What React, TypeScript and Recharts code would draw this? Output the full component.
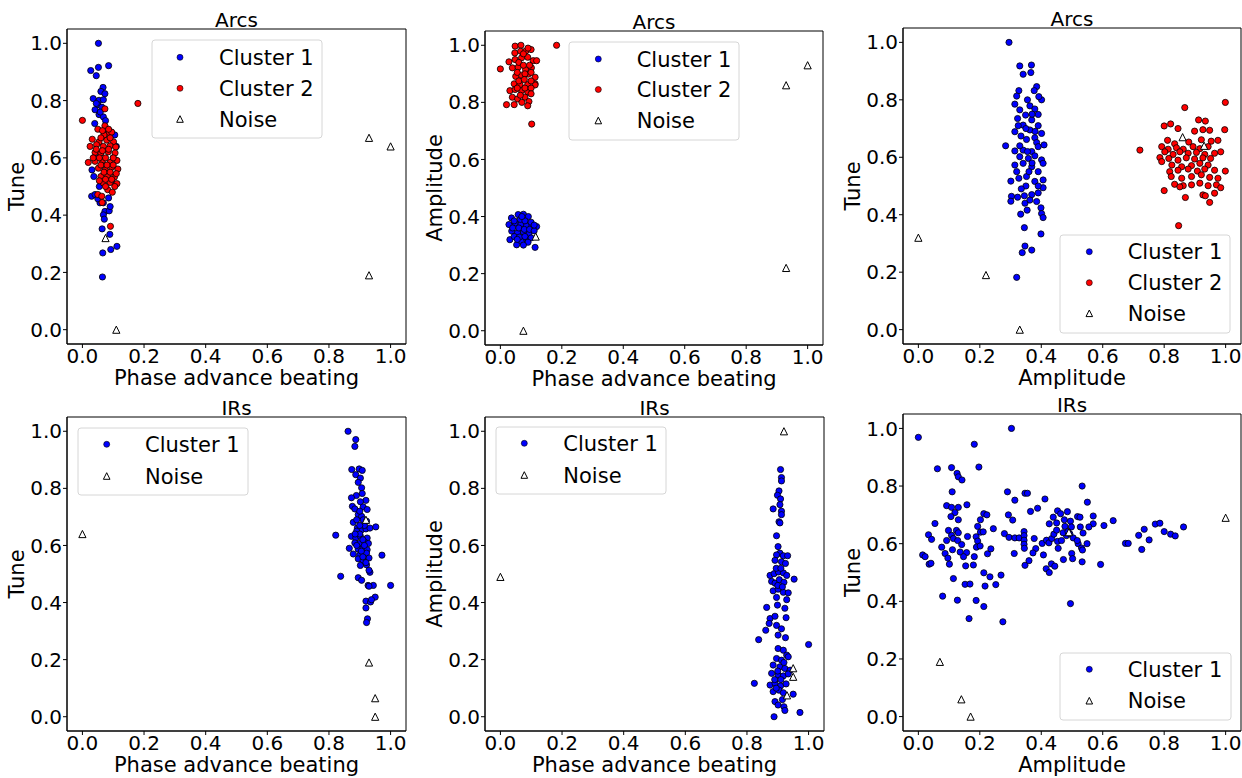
import { ScatterChart, Scatter, XAxis, YAxis, ReferenceArea } from "recharts";

type Pt = [number, number];

// ---- Arcs: phase advance beating vs tune
const arcsPhaseTune1: Pt[] = [
  [0.052, 1.0], [0.027, 0.905], [0.052, 0.916], [0.045, 0.887], [0.085, 0.922],
  [0.067, 0.846], [0.06, 0.832], [0.073, 0.824], [0.035, 0.807], [0.054, 0.801], [0.068, 0.803],
  [0.05, 0.786], [0.041, 0.768], [0.063, 0.777], [0.054, 0.751], [0.068, 0.743],
  [0.045, 0.79], [0.058, 0.76], [0.075, 0.73], [0.04, 0.72], [0.08, 0.7], [0.09, 0.69],
  [0.031, 0.558], [0.037, 0.535], [0.11, 0.64], [0.1, 0.6], [0.045, 0.6],
  [0.03, 0.466], [0.041, 0.472], [0.057, 0.443], [0.05, 0.457], [0.068, 0.443], [0.073, 0.413],
  [0.087, 0.415], [0.068, 0.401], [0.071, 0.386], [0.064, 0.352], [0.089, 0.333], [0.092, 0.28],
  [0.112, 0.291], [0.066, 0.268], [0.065, 0.184],
  [0.105, 0.68], [0.095, 0.52], [0.085, 0.46], [0.055, 0.5], [0.09, 0.43],
];
const arcsPhaseTune2: Pt[] = [
  [0.18, 0.79], [0.0, 0.731], [0.073, 0.771], [0.05, 0.7], [0.073, 0.712], [0.087, 0.688], [0.095, 0.69],
  [0.032, 0.665], [0.054, 0.656], [0.079, 0.662], [0.101, 0.656], [0.025, 0.64], [0.046, 0.646],
  [0.068, 0.64], [0.09, 0.642], [0.108, 0.638], [0.041, 0.619], [0.06, 0.617], [0.084, 0.621],
  [0.106, 0.617], [0.019, 0.584], [0.041, 0.588], [0.065, 0.591], [0.09, 0.584], [0.112, 0.591],
  [0.052, 0.564], [0.074, 0.558], [0.095, 0.567], [0.115, 0.561], [0.06, 0.535], [0.082, 0.537],
  [0.104, 0.533], [0.068, 0.512], [0.09, 0.514], [0.112, 0.51], [0.082, 0.489], [0.097, 0.48],
  [0.05, 0.472], [0.063, 0.466], [0.064, 0.444], [0.091, 0.361],
  [0.035, 0.6], [0.055, 0.6], [0.075, 0.6], [0.1, 0.6], [0.045, 0.63], [0.065, 0.625], [0.085, 0.63],
  [0.06, 0.575], [0.08, 0.575], [0.1, 0.575], [0.07, 0.55], [0.09, 0.55], [0.11, 0.545],
  [0.055, 0.52], [0.075, 0.525], [0.095, 0.525], [0.07, 0.68], [0.06, 0.67], [0.09, 0.67],
  [0.075, 0.5], [0.105, 0.5], [0.085, 0.7], [0.065, 0.695],
];
const arcsPhaseTuneNoise: Pt[] = [[0.075, 0.32], [0.11, 0.0], [0.93, 0.67], [1.0, 0.64], [0.93, 0.19]];

// ---- Arcs: phase advance beating vs amplitude
const arcsPhaseAmp1: Pt[] = [
  [0.036, 0.395], [0.058, 0.407], [0.075, 0.408], [0.091, 0.4], [0.028, 0.372], [0.048, 0.377],
  [0.067, 0.373], [0.085, 0.368], [0.102, 0.365], [0.118, 0.365], [0.037, 0.349], [0.056, 0.343],
  [0.075, 0.346], [0.093, 0.339], [0.031, 0.319], [0.053, 0.301], [0.069, 0.313], [0.085, 0.322],
  [0.113, 0.292],
  [0.045, 0.385], [0.065, 0.39], [0.08, 0.385], [0.1, 0.38], [0.04, 0.36], [0.06, 0.36], [0.078, 0.355],
  [0.095, 0.355], [0.11, 0.35], [0.045, 0.33], [0.062, 0.328], [0.08, 0.33], [0.1, 0.325], [0.07, 0.4],
  [0.055, 0.32], [0.09, 0.31], [0.075, 0.3], [0.11, 0.37],
];
const arcsPhaseAmp2: Pt[] = [
  [0.183, 1.0], [0.0, 0.917], [0.102, 0.724], [0.048, 0.997], [0.067, 1.0], [0.047, 0.973],
  [0.066, 0.979], [0.083, 0.98], [0.1, 0.985], [0.028, 0.942], [0.048, 0.95], [0.069, 0.956],
  [0.089, 0.958], [0.107, 0.946], [0.118, 0.946], [0.039, 0.921], [0.058, 0.923], [0.082, 0.915],
  [0.101, 0.921], [0.05, 0.891], [0.069, 0.895], [0.091, 0.899], [0.113, 0.888], [0.045, 0.865],
  [0.064, 0.862], [0.089, 0.862], [0.113, 0.865], [0.031, 0.841], [0.048, 0.845], [0.069, 0.841],
  [0.089, 0.837], [0.113, 0.861], [0.039, 0.818], [0.056, 0.812], [0.08, 0.818], [0.093, 0.803],
  [0.02, 0.792], [0.045, 0.792], [0.089, 0.788],
  [0.06, 0.94], [0.075, 0.93], [0.095, 0.93], [0.055, 0.905], [0.08, 0.9], [0.1, 0.905], [0.06, 0.875],
  [0.078, 0.88], [0.1, 0.875], [0.055, 0.85], [0.08, 0.85], [0.1, 0.85], [0.065, 0.825], [0.1, 0.83],
  [0.07, 0.8], [0.075, 0.97], [0.09, 0.99],
];
const arcsPhaseAmpNoise: Pt[] = [[0.075, 0.0], [0.115, 0.33], [0.93, 0.86], [1.0, 0.93], [0.93, 0.22]];

// ---- Arcs: amplitude vs tune
const arcsAmpTune1: Pt[] = [
  [0.295, 1.0], [0.33, 0.918], [0.368, 0.921], [0.341, 0.889], [0.366, 0.895], [0.385, 0.846],
  [0.377, 0.832], [0.327, 0.832], [0.32, 0.813], [0.401, 0.8], [0.392, 0.811], [0.314, 0.785],
  [0.363, 0.779], [0.33, 0.765], [0.379, 0.768], [0.39, 0.749], [0.349, 0.747], [0.323, 0.735],
  [0.369, 0.73], [0.341, 0.712], [0.39, 0.71], [0.314, 0.689], [0.363, 0.695], [0.401, 0.683],
  [0.334, 0.674], [0.352, 0.662], [0.379, 0.668], [0.385, 0.651], [0.284, 0.64], [0.314, 0.622],
  [0.341, 0.625], [0.369, 0.62], [0.39, 0.637], [0.409, 0.643], [0.33, 0.602], [0.358, 0.596],
  [0.379, 0.605], [0.401, 0.591], [0.314, 0.573], [0.341, 0.579], [0.369, 0.567], [0.406, 0.579],
  [0.301, 0.517], [0.327, 0.527], [0.352, 0.533], [0.379, 0.516], [0.406, 0.521], [0.406, 0.494],
  [0.303, 0.464], [0.323, 0.461], [0.345, 0.466], [0.369, 0.47], [0.39, 0.476], [0.301, 0.447],
  [0.347, 0.44], [0.385, 0.446], [0.363, 0.451], [0.354, 0.416], [0.399, 0.424], [0.401, 0.404],
  [0.333, 0.402], [0.406, 0.39], [0.345, 0.355], [0.399, 0.333], [0.347, 0.291], [0.369, 0.277],
  [0.338, 0.268], [0.32, 0.182],
  [0.35, 0.7], [0.33, 0.64], [0.36, 0.55], [0.39, 0.55], [0.32, 0.55], [0.35, 0.5], [0.39, 0.5],
  [0.37, 0.58], [0.355, 0.62], [0.325, 0.71], [0.37, 0.75], [0.355, 0.8], [0.335, 0.49], [0.38, 0.69],
];
const arcsAmpTune2: Pt[] = [
  [0.999, 0.791], [0.867, 0.773], [0.721, 0.625], [0.847, 0.362], [0.8, 0.709], [0.821, 0.716],
  [0.912, 0.73], [0.934, 0.726], [0.845, 0.7], [0.899, 0.691], [0.926, 0.696], [0.948, 0.694],
  [0.997, 0.696], [0.811, 0.659], [0.834, 0.647], [0.88, 0.653], [0.921, 0.661], [0.953, 0.656],
  [0.975, 0.659], [0.792, 0.637], [0.813, 0.628], [0.84, 0.633], [0.862, 0.628], [0.894, 0.637],
  [0.916, 0.63], [0.943, 0.637], [0.802, 0.619], [0.829, 0.61], [0.851, 0.619], [0.878, 0.614],
  [0.905, 0.617], [0.932, 0.61], [0.964, 0.614], [0.786, 0.599], [0.815, 0.596], [0.845, 0.59],
  [0.872, 0.598], [0.899, 0.594], [0.926, 0.598], [0.951, 0.596], [0.984, 0.619], [0.792, 0.585],
  [0.825, 0.573], [0.857, 0.567], [0.889, 0.571], [0.916, 0.579], [0.943, 0.573], [0.818, 0.55],
  [0.845, 0.555], [0.878, 0.559], [0.908, 0.552], [0.932, 0.559], [0.964, 0.555], [0.999, 0.552],
  [0.823, 0.533], [0.857, 0.527], [0.889, 0.533], [0.921, 0.539], [0.948, 0.53], [0.975, 0.527],
  [0.834, 0.506], [0.862, 0.501], [0.889, 0.504], [0.916, 0.51], [0.943, 0.501], [0.97, 0.504],
  [0.984, 0.494], [0.8, 0.484], [0.851, 0.497], [0.869, 0.46], [0.926, 0.469], [0.964, 0.475],
  [0.948, 0.443], [0.934, 0.466],
];
const arcsAmpTuneNoise: Pt[] = [[0.0, 0.32], [0.22, 0.19], [0.33, 0.0], [0.86, 0.67], [0.93, 0.64]];

// ---- IRs: phase advance beating vs tune
const irsPhaseTune1: Pt[] = [
  [0.862, 1.0], [0.887, 0.971], [0.884, 0.947], [0.874, 0.866], [0.898, 0.868], [0.908, 0.863],
  [0.887, 0.848], [0.902, 0.836], [0.895, 0.821], [0.906, 0.802], [0.908, 0.782], [0.889, 0.775],
  [0.873, 0.767], [0.92, 0.758], [0.902, 0.753], [0.876, 0.737], [0.884, 0.728], [0.911, 0.735],
  [0.924, 0.726], [0.895, 0.708], [0.906, 0.702], [0.879, 0.681], [0.911, 0.69], [0.922, 0.685],
  [0.892, 0.661], [0.906, 0.655], [0.92, 0.658], [0.933, 0.661], [0.952, 0.665], [0.822, 0.636],
  [0.873, 0.632], [0.887, 0.626], [0.902, 0.632], [0.924, 0.626], [0.884, 0.609], [0.9, 0.607],
  [0.917, 0.611], [0.928, 0.607], [0.866, 0.59], [0.895, 0.587], [0.911, 0.593], [0.924, 0.585],
  [0.879, 0.57], [0.9, 0.566], [0.922, 0.573], [0.972, 0.566], [0.895, 0.553], [0.911, 0.548],
  [0.93, 0.556], [0.902, 0.53], [0.922, 0.532], [0.933, 0.506], [0.93, 0.513], [0.838, 0.492],
  [0.895, 0.487], [0.906, 0.478], [0.927, 0.46], [0.944, 0.46], [1.0, 0.46], [0.93, 0.457],
  [0.95, 0.419], [0.92, 0.405], [0.935, 0.402], [0.938, 0.41], [0.92, 0.381], [0.925, 0.343],
  [0.922, 0.33],
  [0.89, 0.65], [0.9, 0.64], [0.91, 0.62], [0.915, 0.6], [0.89, 0.6], [0.905, 0.58], [0.885, 0.64],
  [0.915, 0.67], [0.9, 0.67], [0.91, 0.56], [0.92, 0.54], [0.89, 0.69], [0.9, 0.72],
];
const irsPhaseTuneNoise: Pt[] = [[0.0, 0.64], [0.93, 0.19], [0.95, 0.065], [0.95, 0.0], [0.92, 0.69]];

// ---- IRs: phase advance beating vs amplitude
const irsPhaseAmp1: Pt[] = [
  [0.909, 0.866], [0.912, 0.838], [0.912, 0.826], [0.904, 0.791], [0.899, 0.776], [0.909, 0.763],
  [0.885, 0.728], [0.907, 0.743], [0.912, 0.72], [0.912, 0.708], [0.904, 0.683], [0.907, 0.679],
  [0.896, 0.634], [0.901, 0.596], [0.907, 0.573], [0.896, 0.567], [0.918, 0.564], [0.932, 0.564],
  [0.891, 0.548], [0.912, 0.543], [0.925, 0.537], [0.875, 0.495], [0.888, 0.501], [0.902, 0.507],
  [0.918, 0.504], [0.929, 0.495], [0.953, 0.482], [0.88, 0.474], [0.891, 0.468], [0.905, 0.48],
  [0.92, 0.471], [0.885, 0.441], [0.901, 0.447], [0.918, 0.436], [0.934, 0.434], [0.896, 0.418],
  [0.929, 0.41], [0.864, 0.383], [0.899, 0.391], [0.923, 0.38], [0.875, 0.344], [0.891, 0.352],
  [0.927, 0.347], [0.872, 0.327], [0.861, 0.303], [0.896, 0.32], [0.912, 0.308], [0.901, 0.286],
  [0.925, 0.277], [0.838, 0.27], [1.0, 0.253], [0.901, 0.239], [0.918, 0.233], [0.929, 0.216],
  [0.896, 0.204], [0.912, 0.198], [0.934, 0.21], [0.885, 0.181], [0.907, 0.175], [0.923, 0.169],
  [0.94, 0.163], [0.88, 0.152], [0.901, 0.146], [0.918, 0.143], [0.934, 0.15], [0.875, 0.111],
  [0.891, 0.117], [0.909, 0.108], [0.927, 0.115], [0.824, 0.117], [0.885, 0.088], [0.904, 0.093],
  [0.918, 0.084], [0.95, 0.079], [0.891, 0.053], [0.901, 0.041], [0.92, 0.035], [0.888, 0.0],
  [0.972, 0.015], [0.923, 0.022],
  [0.895, 0.52], [0.91, 0.52], [0.9, 0.46], [0.915, 0.455], [0.89, 0.13], [0.91, 0.13], [0.9, 0.16],
  [0.92, 0.19], [0.895, 0.1], [0.915, 0.06],
];
const irsPhaseAmpNoise: Pt[] = [[0.0, 0.49], [0.92, 1.0], [0.95, 0.17], [0.95, 0.14], [0.93, 0.075]];

// ---- IRs: amplitude vs tune
const irsAmpTune1: Pt[] = [
  [0.0, 0.969], [0.303, 1.0], [0.182, 0.945], [0.062, 0.86], [0.108, 0.864], [0.197, 0.866],
  [0.126, 0.844], [0.13, 0.832], [0.142, 0.821], [0.11, 0.78], [0.29, 0.78], [0.533, 0.8],
  [0.55, 0.744], [0.347, 0.775], [0.355, 0.775], [0.314, 0.751], [0.412, 0.755], [0.388, 0.723],
  [0.365, 0.712], [0.092, 0.732], [0.108, 0.726], [0.13, 0.726], [0.158, 0.735], [0.293, 0.7],
  [0.307, 0.682], [0.213, 0.704], [0.223, 0.7], [0.119, 0.708], [0.106, 0.694], [0.13, 0.683],
  [0.054, 0.67], [0.202, 0.683], [0.453, 0.714], [0.463, 0.704], [0.485, 0.711], [0.439, 0.692],
  [0.475, 0.683], [0.495, 0.678], [0.518, 0.694], [0.526, 0.692], [0.569, 0.696], [0.634, 0.68],
  [0.604, 0.663], [0.569, 0.669], [0.426, 0.669], [0.45, 0.672], [0.477, 0.66], [0.498, 0.658],
  [0.527, 0.658], [0.555, 0.658], [0.771, 0.668], [0.786, 0.671], [0.735, 0.65], [0.863, 0.658],
  [0.8, 0.642], [0.821, 0.633], [0.836, 0.627], [0.717, 0.629], [0.751, 0.613], [0.674, 0.601],
  [0.683, 0.601], [0.727, 0.58], [0.593, 0.528], [0.533, 0.537], [0.495, 0.392], [0.244, 0.652],
  [0.193, 0.66], [0.202, 0.64], [0.211, 0.641], [0.16, 0.625], [0.124, 0.646], [0.13, 0.638],
  [0.098, 0.646], [0.108, 0.629], [0.033, 0.631], [0.043, 0.615], [0.092, 0.611], [0.114, 0.618],
  [0.128, 0.611], [0.076, 0.588], [0.111, 0.579], [0.141, 0.597], [0.087, 0.566], [0.096, 0.55],
  [0.101, 0.529], [0.014, 0.561], [0.022, 0.555], [0.035, 0.529], [0.041, 0.532], [0.136, 0.571],
  [0.157, 0.569], [0.147, 0.555], [0.188, 0.624], [0.193, 0.609], [0.189, 0.588], [0.201, 0.592],
  [0.182, 0.555], [0.154, 0.523], [0.179, 0.526], [0.225, 0.565], [0.236, 0.582], [0.213, 0.499],
  [0.233, 0.485], [0.269, 0.491], [0.114, 0.479], [0.152, 0.459], [0.168, 0.46], [0.217, 0.453],
  [0.252, 0.458], [0.079, 0.418], [0.127, 0.404], [0.188, 0.403], [0.213, 0.382], [0.165, 0.34],
  [0.275, 0.329], [0.28, 0.635], [0.295, 0.622], [0.314, 0.62], [0.328, 0.62], [0.344, 0.642],
  [0.344, 0.628], [0.344, 0.612], [0.344, 0.598], [0.345, 0.584], [0.377, 0.618], [0.382, 0.583],
  [0.373, 0.568], [0.312, 0.566], [0.347, 0.525], [0.36, 0.541], [0.407, 0.561], [0.403, 0.601],
  [0.417, 0.612], [0.425, 0.603], [0.434, 0.618], [0.441, 0.633], [0.45, 0.647], [0.455, 0.584],
  [0.472, 0.545], [0.499, 0.566], [0.502, 0.548], [0.453, 0.608], [0.466, 0.611], [0.482, 0.628],
  [0.493, 0.634], [0.504, 0.62], [0.52, 0.6], [0.517, 0.611], [0.536, 0.637], [0.531, 0.585],
  [0.549, 0.6], [0.534, 0.578], [0.416, 0.513], [0.433, 0.53], [0.444, 0.522], [0.426, 0.5],
  [0.471, 0.638], [0.487, 0.642],
];
const irsAmpTuneNoise: Pt[] = [[0.07, 0.19], [0.14, 0.06], [0.17, 0.0], [1.0, 0.69], [0.49, 0.64]];

const axisTicks = [0, 0.2, 0.4, 0.6, 0.8, 1.0];
const FONT = "DejaVu Sans";
const BLUE = "#0000ff";
const RED = "#ff0000";

const toXY = (pts: Pt[]) => pts.map(([x, y]) => ({ x, y }));

const dot = (fill: string) => (p: any) => (
  <circle cx={p.cx} cy={p.cy} r={3.1} fill={fill} stroke="#000" strokeWidth={0.8} />
);

const tri = (p: any) => {
  const s = 3.6;
  return (
    <polygon
      points={`${p.cx},${p.cy - s} ${p.cx - s},${p.cy + s} ${p.cx + s},${p.cy + s}`}
      fill="#fff"
      stroke="#000"
      strokeWidth={1}
    />
  );
};

type PanelProps = {
  left: number;
  top: number;
  w: number;
  h: number;
  title: string;
  xLabel: string;
  yLabel: string;
  c1: Pt[];
  c2?: Pt[];
  noise: Pt[];
};

function Panel({ left, top, w, h, title, xLabel, yLabel, c1, c2, noise }: PanelProps) {
  const YW = 67, XH = 47, MT = 30, MR = 2;
  const tickStyle = { fontSize: 20, fill: "#000" };
  return (
    <div style={{ position: "absolute", left: left - YW, top: top - MT }}>
      <ScatterChart width={YW + w + MR} height={MT + h + XH} margin={{ top: MT, right: MR, bottom: 0, left: 0 }}>
        <XAxis
          type="number"
          dataKey="x"
          domain={[-0.05, 1.05]}
          ticks={axisTicks}
          allowDataOverflow
          tickFormatter={(v: number) => v.toFixed(1)}
          height={XH}
          tick={tickStyle}
          tickSize={4}
          tickMargin={1}
          tickLine={{ stroke: "#000" }}
          axisLine={{ stroke: "#000" }}
          label={{ value: xLabel, position: "insideBottom", offset: 6, fontSize: 21, fill: "#000" }}
        />
        <YAxis
          type="number"
          dataKey="y"
          domain={[-0.05, 1.05]}
          ticks={axisTicks}
          allowDataOverflow
          tickFormatter={(v: number) => v.toFixed(1)}
          width={YW}
          tick={tickStyle}
          tickSize={4}
          tickMargin={1}
          tickLine={{ stroke: "#000" }}
          axisLine={{ stroke: "#000" }}
          label={{
            value: yLabel,
            angle: -90,
            position: "insideLeft",
            offset: 17,
            fontSize: 21,
            fill: "#000",
            style: { textAnchor: "middle" },
          }}
        />
        <ReferenceArea
          x1={-0.05}
          x2={1.05}
          y1={-0.05}
          y2={1.05}
          fill="none"
          fillOpacity={0}
          stroke="#000"
          strokeWidth={1}
          ifOverflow="visible"
          label={{ value: title, position: "top", offset: 2.5, fontSize: 20, fill: "#000" }}
        />
        <Scatter data={toXY(c1)} shape={dot(BLUE)} isAnimationActive={false} />
        {c2 && <Scatter data={toXY(c2)} shape={dot(RED)} isAnimationActive={false} />}
        <Scatter data={toXY(noise)} shape={tri} isAnimationActive={false} />
      </ScatterChart>
    </div>
  );
}

type LegendSpec = { x: number; y: number; w: number; h: number; mx: number; tx: number; rows: number[]; two?: boolean };

function LegendBox({ x, y, w, h, mx, tx, rows, two }: LegendSpec) {
  const items = two
    ? [{ label: "Cluster 1", kind: "b" }, { label: "Noise", kind: "n" }]
    : [{ label: "Cluster 1", kind: "b" }, { label: "Cluster 2", kind: "r" }, { label: "Noise", kind: "n" }];
  return (
    <g>
      <rect x={x} y={y} width={w} height={h} rx={3} fill="#fff" fillOpacity={0.85} stroke="#d6d6d6" strokeWidth={1} />
      {items.map((it, i) => {
        const cy = rows[i];
        const s = 3.3;
        return (
          <g key={it.label}>
            {it.kind === "n" ? (
              <polygon points={`${mx},${cy - s} ${mx - s},${cy + s} ${mx + s},${cy + s}`} fill="#fff" stroke="#000" strokeWidth={1} />
            ) : (
              <circle cx={mx} cy={cy} r={3} fill={it.kind === "b" ? BLUE : RED} stroke="#000" strokeWidth={0.6} />
            )}
            <text x={tx} y={cy + 7.6} fontSize={21} fill="#000">{it.label}</text>
          </g>
        );
      })}
    </g>
  );
}

const legends: LegendSpec[] = [
  { x: 152, y: 40, w: 170, h: 98, mx: 180, tx: 219, rows: [57.3, 88.3, 119] },
  { x: 569, y: 42, w: 170, h: 98, mx: 598.3, tx: 636.7, rows: [59, 89.5, 120.5] },
  { x: 1060, y: 235, w: 170, h: 98, mx: 1089.3, tx: 1127.7, rows: [251.7, 282.7, 313.3] },
  { x: 78, y: 428, w: 170, h: 67, mx: 106.7, tx: 145, rows: [444.3, 476], two: true },
  { x: 496, y: 427, w: 170, h: 67, mx: 524.3, tx: 563.3, rows: [443.3, 475], two: true },
  { x: 1060, y: 653, w: 171, h: 67, mx: 1089.3, tx: 1127.7, rows: [669.3, 700.7], two: true },
];

export default function App() {
  return (
    <div
      style={{
        position: "absolute",
        left: 0,
        top: 0,
        width: 1242,
        height: 778,
        overflow: "hidden",
        background: "#fff",
        fontFamily: FONT,
      }}
    >
      <Panel left={67} top={29} w={339} h={315} title="Arcs" xLabel="Phase advance beating" yLabel="Tune"
        c1={arcsPhaseTune1} c2={arcsPhaseTune2} noise={arcsPhaseTuneNoise} />
      <Panel left={485} top={31} w={338} h={314} title="Arcs" xLabel="Phase advance beating" yLabel="Amplitude"
        c1={arcsPhaseAmp1} c2={arcsPhaseAmp2} noise={arcsPhaseAmpNoise} />
      <Panel left={903} top={28} w={338} h={316} title="Arcs" xLabel="Amplitude" yLabel="Tune"
        c1={arcsAmpTune1} c2={arcsAmpTune2} noise={arcsAmpTuneNoise} />
      <Panel left={67} top={417} w={339} h={314} title="IRs" xLabel="Phase advance beating" yLabel="Tune"
        c1={irsPhaseTune1} noise={irsPhaseTuneNoise} />
      <Panel left={485} top={417} w={339} h={314} title="IRs" xLabel="Phase advance beating" yLabel="Amplitude"
        c1={irsPhaseAmp1} noise={irsPhaseAmpNoise} />
      <Panel left={903} top={414} w={338} h={317} title="IRs" xLabel="Amplitude" yLabel="Tune"
        c1={irsAmpTune1} noise={irsAmpTuneNoise} />
      <svg
        width={1242}
        height={778}
        style={{ position: "absolute", left: 0, top: 0, pointerEvents: "none", fontFamily: FONT }}
      >
        {legends.map((l, i) => (
          <LegendBox key={i} {...l} />
        ))}
      </svg>
    </div>
  );
}
